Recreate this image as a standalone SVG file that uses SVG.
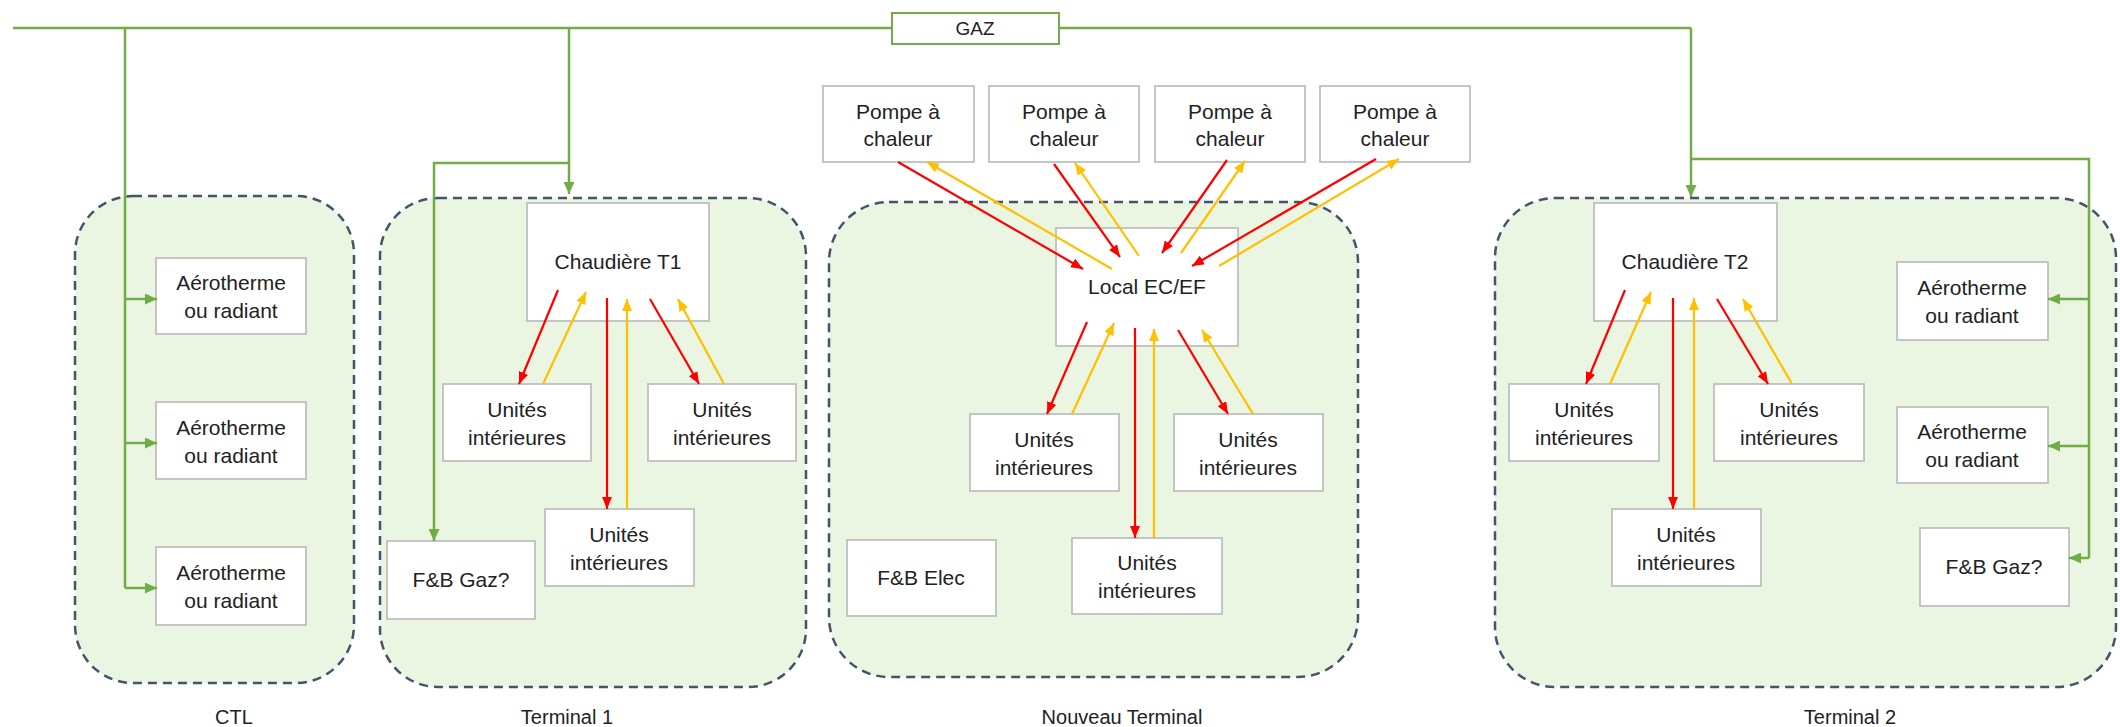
<svg xmlns="http://www.w3.org/2000/svg" width="2120" height="727" viewBox="0 0 2120 727">
<style>
.zone{fill:#EAF5E2;stroke:#44546A;stroke-width:2.5;stroke-dasharray:9 6}
.box{fill:#fff;stroke:#BFBFBF;stroke-width:1.8}
.t{font-family:"Liberation Sans",Arial,sans-serif;font-size:21px;fill:#222;text-anchor:middle}
.lbl{font-family:"Liberation Sans",Arial,sans-serif;font-size:20px;fill:#222;text-anchor:middle}
.g{fill:none;stroke:#70AD47;stroke-width:2.5}
.r{stroke:#FF0000;stroke-width:2.2;fill:none}
.y{stroke:#FFC000;stroke-width:2.2;fill:none}
</style>
<defs>
<marker id="ag" markerUnits="userSpaceOnUse" markerWidth="13" markerHeight="11" refX="12" refY="5.5" orient="auto"><path d="M0,0 L12,5.5 L0,11 Z" fill="#70AD47"/></marker>
<marker id="ar" markerUnits="userSpaceOnUse" markerWidth="13" markerHeight="10" refX="12" refY="5" orient="auto"><path d="M0,0 L12,5 L0,10 Z" fill="#FF0000"/></marker>
<marker id="ay" markerUnits="userSpaceOnUse" markerWidth="13" markerHeight="10" refX="12" refY="5" orient="auto"><path d="M0,0 L12,5 L0,10 Z" fill="#FFC000"/></marker>
</defs>

<g id="zones">
<rect id="zone-ctl" class="zone" x="75" y="196" width="279" height="487" rx="58"/>
<rect id="zone-t1" class="zone" x="380" y="198" width="426" height="489" rx="58"/>
<rect id="zone-nt" class="zone" x="829" y="202" width="529" height="475" rx="60"/>
<rect id="zone-t2" class="zone" x="1495" y="198" width="621" height="489" rx="60"/>
</g>

<g id="labels">
<text class="lbl" x="234" y="724">CTL</text>
<text class="lbl" x="567" y="724">Terminal 1</text>
<text class="lbl" x="1122" y="724">Nouveau Terminal</text>
<text class="lbl" x="1850" y="724">Terminal 2</text>
</g>

<g id="gaz">
<rect x="892" y="13" width="167" height="31" fill="#fff" stroke="#70AD47" stroke-width="2"/>
<text class="t" x="975" y="35" style="font-size:19px">GAZ</text>
</g>

<!-- CTL -->
<g id="ctl-aero1"><rect class="box" x="156" y="258" width="150" height="76"/><text class="t" x="231" y="290">Aérotherme</text><text class="t" x="231" y="318">ou radiant</text></g>
<g id="ctl-aero2"><rect class="box" x="156" y="402" width="150" height="77"/><text class="t" x="231" y="435">Aérotherme</text><text class="t" x="231" y="463">ou radiant</text></g>
<g id="ctl-aero3"><rect class="box" x="156" y="547" width="150" height="78"/><text class="t" x="231" y="580">Aérotherme</text><text class="t" x="231" y="608">ou radiant</text></g>

<!-- Terminal 1 -->
<g id="t1-chaudiere"><rect class="box" x="527" y="203" width="182" height="118"/><text class="t" x="618" y="269">Chaudière T1</text></g>
<g id="t1-u1"><rect class="box" x="443" y="384" width="148" height="77"/><text class="t" x="517" y="417">Unités</text><text class="t" x="517" y="445">intérieures</text></g>
<g id="t1-u2"><rect class="box" x="648" y="384" width="148" height="77"/><text class="t" x="722" y="417">Unités</text><text class="t" x="722" y="445">intérieures</text></g>
<g id="t1-u3"><rect class="box" x="545" y="509" width="149" height="77"/><text class="t" x="619" y="542">Unités</text><text class="t" x="619" y="570">intérieures</text></g>
<g id="t1-fb"><rect class="box" x="387" y="541" width="148" height="78"/><text class="t" x="461" y="587">F&amp;B Gaz?</text></g>

<!-- Nouveau Terminal -->
<g id="pac1"><rect class="box" x="823" y="86" width="151" height="76"/><text class="t" x="898" y="119">Pompe à</text><text class="t" x="898" y="146">chaleur</text></g>
<g id="pac2"><rect class="box" x="989" y="86" width="150" height="76"/><text class="t" x="1064" y="119">Pompe à</text><text class="t" x="1064" y="146">chaleur</text></g>
<g id="pac3"><rect class="box" x="1155" y="86" width="150" height="76"/><text class="t" x="1230" y="119">Pompe à</text><text class="t" x="1230" y="146">chaleur</text></g>
<g id="pac4"><rect class="box" x="1320" y="86" width="150" height="76"/><text class="t" x="1395" y="119">Pompe à</text><text class="t" x="1395" y="146">chaleur</text></g>
<g id="nt-local"><rect class="box" x="1056" y="228" width="182" height="118"/><text class="t" x="1147" y="294">Local EC/EF</text></g>
<g id="nt-u1"><rect class="box" x="970" y="414" width="149" height="77"/><text class="t" x="1044" y="447">Unités</text><text class="t" x="1044" y="475">intérieures</text></g>
<g id="nt-u2"><rect class="box" x="1174" y="414" width="149" height="77"/><text class="t" x="1248" y="447">Unités</text><text class="t" x="1248" y="475">intérieures</text></g>
<g id="nt-u3"><rect class="box" x="1072" y="538" width="150" height="76"/><text class="t" x="1147" y="570">Unités</text><text class="t" x="1147" y="598">intérieures</text></g>
<g id="nt-fb"><rect class="box" x="847" y="540" width="149" height="76"/><text class="t" x="921" y="585">F&amp;B Elec</text></g>

<!-- Terminal 2 -->
<g id="t2-chaudiere"><rect class="box" x="1594" y="203" width="183" height="118"/><text class="t" x="1685" y="269">Chaudière T2</text></g>
<g id="t2-u1"><rect class="box" x="1509" y="384" width="150" height="77"/><text class="t" x="1584" y="417">Unités</text><text class="t" x="1584" y="445">intérieures</text></g>
<g id="t2-u2"><rect class="box" x="1714" y="384" width="150" height="77"/><text class="t" x="1789" y="417">Unités</text><text class="t" x="1789" y="445">intérieures</text></g>
<g id="t2-u3"><rect class="box" x="1612" y="509" width="149" height="77"/><text class="t" x="1686" y="542">Unités</text><text class="t" x="1686" y="570">intérieures</text></g>
<g id="t2-aero1"><rect class="box" x="1897" y="262" width="151" height="78"/><text class="t" x="1972" y="295">Aérotherme</text><text class="t" x="1972" y="323">ou radiant</text></g>
<g id="t2-aero2"><rect class="box" x="1897" y="407" width="151" height="76"/><text class="t" x="1972" y="439">Aérotherme</text><text class="t" x="1972" y="467">ou radiant</text></g>
<g id="t2-fb"><rect class="box" x="1920" y="528" width="149" height="78"/><text class="t" x="1994" y="574">F&amp;B Gaz?</text></g>

<g id="connectors">
<path class="g" d="M13,28 H892 M1059,28 H1691"/>
<path class="g" d="M125,28 V588"/>
<path class="g" d="M125,299 H157" marker-end="url(#ag)"/>
<path class="g" d="M125,443 H157" marker-end="url(#ag)"/>
<path class="g" d="M125,588 H157" marker-end="url(#ag)"/>
<path class="g" d="M569,28 V194" marker-end="url(#ag)"/>
<path class="g" d="M569,163 H434 V541" marker-end="url(#ag)"/>
<path class="g" d="M1691,28 V197" marker-end="url(#ag)"/>
<path class="g" d="M1691,159 H2089 V558"/>
<path class="g" d="M2089,299 H2048" marker-end="url(#ag)"/>
<path class="g" d="M2089,446 H2048" marker-end="url(#ag)"/>
<path class="g" d="M2089,558 H2069" marker-end="url(#ag)"/>

<!-- Terminal 1 -->
<line class="r" x1="558" y1="290" x2="519" y2="384" marker-end="url(#ar)"/>
<line class="y" x1="543" y1="384" x2="586" y2="292" marker-end="url(#ay)"/>
<line class="r" x1="607" y1="298" x2="607" y2="509" marker-end="url(#ar)"/>
<line class="y" x1="627" y1="509" x2="627" y2="299" marker-end="url(#ay)"/>
<line class="r" x1="650" y1="299" x2="699" y2="384" marker-end="url(#ar)"/>
<line class="y" x1="724" y1="384" x2="678" y2="299" marker-end="url(#ay)"/>

<!-- Nouveau Terminal: pumps -->
<line class="r" x1="898" y1="162" x2="1083" y2="269" marker-end="url(#ar)"/>
<line class="y" x1="1112" y1="269" x2="927" y2="162" marker-end="url(#ay)"/>
<line class="r" x1="1054" y1="164" x2="1120" y2="257" marker-end="url(#ar)"/>
<line class="y" x1="1139" y1="256" x2="1075" y2="163" marker-end="url(#ay)"/>
<line class="r" x1="1227" y1="160" x2="1162" y2="253" marker-end="url(#ar)"/>
<line class="y" x1="1181" y1="253" x2="1245" y2="161" marker-end="url(#ay)"/>
<line class="r" x1="1376" y1="159" x2="1192" y2="266" marker-end="url(#ar)"/>
<line class="y" x1="1219" y1="266" x2="1399" y2="159" marker-end="url(#ay)"/>

<!-- Nouveau Terminal: units -->
<line class="r" x1="1087" y1="322" x2="1047" y2="414" marker-end="url(#ar)"/>
<line class="y" x1="1072" y1="414" x2="1114" y2="323" marker-end="url(#ay)"/>
<line class="r" x1="1135" y1="328" x2="1135" y2="538" marker-end="url(#ar)"/>
<line class="y" x1="1154" y1="538" x2="1154" y2="329" marker-end="url(#ay)"/>
<line class="r" x1="1178" y1="330" x2="1228" y2="414" marker-end="url(#ar)"/>
<line class="y" x1="1253" y1="414" x2="1202" y2="330" marker-end="url(#ay)"/>

<!-- Terminal 2 -->
<line class="r" x1="1625" y1="290" x2="1586" y2="384" marker-end="url(#ar)"/>
<line class="y" x1="1610" y1="384" x2="1651" y2="292" marker-end="url(#ay)"/>
<line class="r" x1="1673" y1="298" x2="1673" y2="509" marker-end="url(#ar)"/>
<line class="y" x1="1694" y1="509" x2="1694" y2="298" marker-end="url(#ay)"/>
<line class="r" x1="1717" y1="299" x2="1768" y2="384" marker-end="url(#ar)"/>
<line class="y" x1="1792" y1="384" x2="1743" y2="299" marker-end="url(#ay)"/>
</g>
</svg>
